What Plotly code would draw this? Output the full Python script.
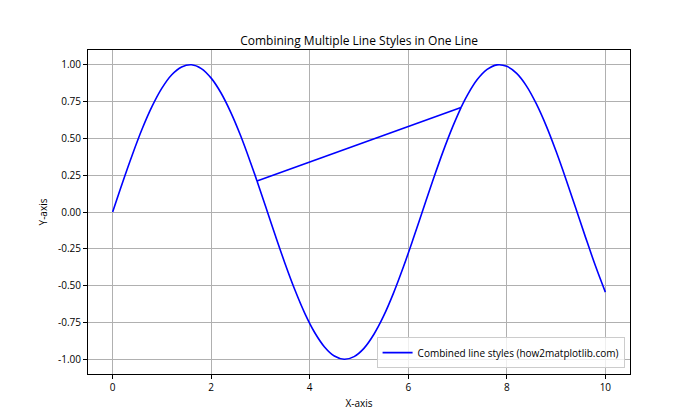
import plotly.graph_objects as go

# Segment 1 (start of the curve)
x_a = [0.0, 0.2, 0.4, 0.6, 0.8, 1.0, 1.2, 1.4, 1.6, 1.8, 2.0, 2.2, 2.4, 2.6, 2.8, 2.93]
y_a = [0.0, 0.199, 0.389, 0.565, 0.717, 0.841, 0.932, 0.985, 1.0, 0.974, 0.909, 0.808, 0.675, 0.516, 0.335, 0.211]

# Segment 2 (the trough)
x_b = [2.93, 3.1, 3.3, 3.5, 3.7, 3.9, 4.1, 4.3, 4.5, 4.7, 4.9, 5.1, 5.3, 5.5, 5.7, 5.9, 6.1, 6.3, 6.5, 6.7, 6.9, 7.07]
y_b = [0.211, 0.042, -0.158, -0.351, -0.530, -0.688, -0.818, -0.916, -0.978, -1.0, -0.982, -0.926, -0.832, -0.706, -0.551, -0.374, -0.182, 0.017, 0.215, 0.405, 0.578, 0.709]

# Segment 3 (end of the curve)
x_c = [7.07, 7.2, 7.4, 7.6, 7.8, 8.0, 8.2, 8.4, 8.6, 8.8, 9.0, 9.2, 9.4, 9.6, 9.8, 10.0]
y_c = [0.709, 0.794, 0.899, 0.968, 0.999, 0.989, 0.941, 0.855, 0.734, 0.585, 0.412, 0.223, 0.025, -0.174, -0.367, -0.544]

x_ticks = [0, 2, 4, 6, 8, 10]
x_ticktext = ["0", "2", "4", "6", "8", "10"]
y_ticks = [-1.0, -0.75, -0.5, -0.25, 0.0, 0.25, 0.5, 0.75, 1.0]
y_ticktext = ["-1.00", "-0.75", "-0.50", "-0.25", "0.00", "0.25", "0.50", "0.75", "1.00"]

BLUE = "#0000ff"
FONT = "Open Sans"

fig = go.Figure()
line_style = dict(color=BLUE, width=1.6)

fig.add_trace(go.Scatter(x=x_a, y=y_a, mode="lines", line=dict(**line_style, shape="spline"),
                         showlegend=False, hoverinfo="skip"))
fig.add_trace(go.Scatter(x=[x_a[-1], x_c[0]], y=[y_a[-1], y_c[0]], mode="lines", line=line_style,
                         name="Combined line styles (how2matplotlib.com)", showlegend=True))
fig.add_trace(go.Scatter(x=x_c, y=y_c, mode="lines", line=dict(**line_style, shape="spline"),
                         showlegend=False, hoverinfo="skip"))
fig.add_trace(go.Scatter(x=x_b, y=y_b, mode="lines", line=dict(**line_style, shape="spline"),
                         showlegend=False, hoverinfo="skip"))

axis_common = dict(
    showline=True, linecolor="black", linewidth=1, mirror=True,
    ticks="outside", ticklen=4, tickcolor="black", tickwidth=1,
    showgrid=True, gridcolor="#b0b0b0", gridwidth=0.8, zeroline=False,
    tickfont=dict(family=FONT, size=10, color="black"),
)

fig.update_layout(
    width=700, height=420,
    margin=dict(l=88, r=70, t=50, b=46),
    paper_bgcolor="white", plot_bgcolor="white",
    font=dict(family=FONT, color="black"),
    title=dict(text="Combining Multiple Line Styles in One Line", x=0.513, xanchor="center",
               y=0.892, yanchor="bottom", font=dict(family=FONT, size=12, color="black")),
    xaxis=dict(**axis_common, range=[-0.5, 10.5], tickvals=x_ticks, ticktext=x_ticktext,
               title=dict(text="X-axis", font=dict(family=FONT, size=10), standoff=6)),
    yaxis=dict(**axis_common, range=[-1.1, 1.1], tickvals=y_ticks, ticktext=y_ticktext,
               title=dict(text="Y-axis", font=dict(family=FONT, size=10), standoff=8)),
    legend=dict(x=0.99, y=0.018, xanchor="right", yanchor="bottom",
                bgcolor="rgba(255,255,255,0.8)", bordercolor="#cccccc", borderwidth=1,
                font=dict(family=FONT, size=10, color="black"), tracegroupgap=0),
)

fig.write_html("out.html")
